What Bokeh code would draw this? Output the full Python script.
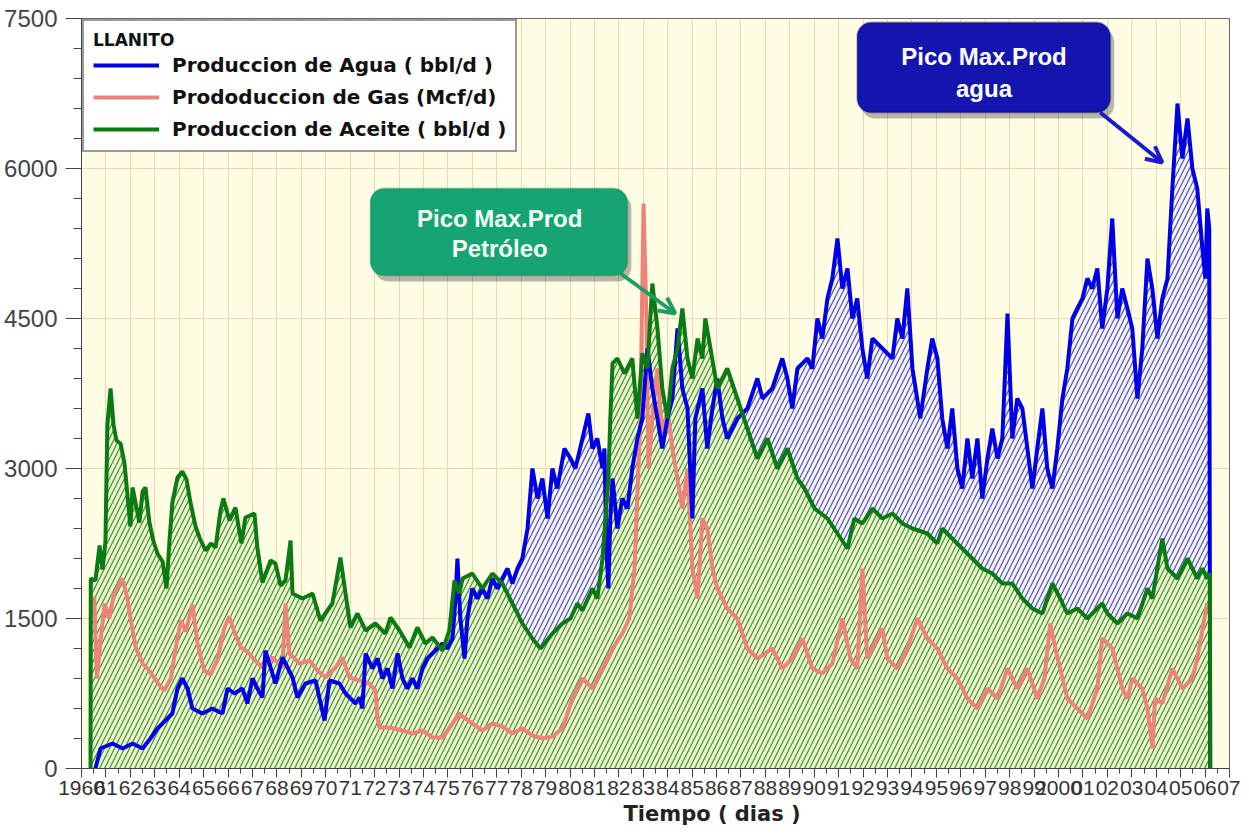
from bokeh.plotting import figure
from bokeh.models import (Range1d, FixedTicker, Legend, LegendItem, BoxAnnotation,
                          Label, Arrow, OpenHead, Title)
from bokeh.embed import file_html
from bokeh.resources import INLINE

# ---------------- data ----------------
TICK_YEARS = [1960, 1961, 1962, 1963, 1964, 1965, 1966, 1967, 1968, 1969,
              1970, 1971, 1972, 1973, 1974, 1975, 1976, 1977, 1978, 1979,
              1980, 1981, 1982, 1983, 1984, 1985, 1986, 1987, 1988, 1989,
              1990, 1991, 1992, 1993, 1994, 1995, 1996, 1997, 1998, 1999,
              2000, 2001, 2002, 2003, 2004, 2005, 2006, 2007]
TICK_LABELS = ["1960", "61", "62", "63", "64", "65", "66", "67", "68", "69",
               "70", "71", "72", "73", "74", "75", "76", "77", "78", "79",
               "80", "81", "82", "83", "84", "85", "86", "87", "88", "89",
               "90", "91", "92", "93", "94", "95", "96", "97", "98", "99",
               "2000", "01", "02", "03", "04", "05", "06", "07"]
Y_TICKS = [0, 1500, 3000, 4500, 6000, 7500]

WATER_YEAR = [1960.57, 1960.78, 1961.27, 1961.68, 1962.09, 1962.50, 1962.82, 1963.11, 1963.52, 1963.72,
              1963.93, 1964.13, 1964.34, 1964.54, 1964.95, 1965.36, 1965.77, 1965.98, 1966.26, 1966.59,
              1966.79, 1967.00, 1967.20, 1967.41, 1967.53, 1967.94, 1968.23, 1968.64, 1968.84, 1969.17,
              1969.58, 1969.95, 1970.15, 1970.56, 1970.81, 1971.22, 1971.38, 1971.50, 1971.63, 1971.91,
              1972.12, 1972.32, 1972.53, 1972.73, 1972.94, 1973.14, 1973.34, 1973.55, 1973.75, 1973.96,
              1974.16, 1974.57, 1974.78, 1974.98, 1975.19, 1975.31, 1975.39, 1975.51, 1975.68, 1975.80,
              1976.00, 1976.21, 1976.41, 1976.62, 1976.82, 1977.03, 1977.23, 1977.44, 1977.64, 1977.85,
              1978.05, 1978.26, 1978.46, 1978.67, 1978.87, 1979.08, 1979.28, 1979.48, 1979.77, 1980.02,
              1980.22, 1980.51, 1980.75, 1980.92, 1981.12, 1981.33, 1981.41, 1981.49, 1981.57, 1981.65,
              1981.74, 1981.94, 1982.14, 1982.35, 1982.55, 1982.76, 1982.96, 1983.17, 1983.37, 1983.58,
              1983.78, 1983.99, 1984.19, 1984.40, 1984.60, 1984.81, 1985.01, 1985.13, 1985.42, 1985.62,
              1985.83, 1986.03, 1986.24, 1986.44, 1986.85, 1987.26, 1987.67, 1987.88, 1988.28, 1988.69,
              1988.90, 1989.10, 1989.31, 1989.72, 1989.92, 1990.13, 1990.33, 1990.54, 1990.74, 1990.95,
              1991.15, 1991.36, 1991.56, 1991.76, 1991.97, 1992.17, 1992.38, 1992.79, 1993.20, 1993.40,
              1993.61, 1993.81, 1994.02, 1994.34, 1994.63, 1994.83, 1995.04, 1995.24, 1995.45, 1995.65,
              1995.86, 1996.06, 1996.27, 1996.47, 1996.68, 1996.88, 1997.09, 1997.29, 1997.50, 1997.70,
              1997.91, 1998.11, 1998.31, 1998.52, 1998.93, 1999.13, 1999.34, 1999.54, 1999.75, 1999.95,
              2000.16, 2000.36, 2000.57, 2000.77, 2000.98, 2001.18, 2001.38, 2001.59, 2001.79, 2002.00,
              2002.20, 2002.41, 2002.61, 2002.82, 2003.02, 2003.23, 2003.43, 2003.64, 2003.84, 2004.05,
              2004.25, 2004.46, 2004.66, 2004.87, 2005.07, 2005.28, 2005.48, 2005.68, 2005.89, 2006.01,
              2006.09, 2006.17, 2006.21]
WATER_BBL = [0, 200, 250, 200, 250, 200, 300, 400, 500, 550,
             800, 900, 800, 600, 550, 600, 550, 800, 750, 800,
             650, 900, 800, 710, 1180, 850, 1110, 910, 710, 850,
             880, 480, 880, 850, 750, 650, 710, 600, 1150, 1000,
             1100, 900, 1000, 800, 1150, 900, 800, 900, 800, 1000,
             1100, 1200, 1250, 1200, 1300, 1700, 2100, 1500, 1100, 1500,
             1800, 1700, 1800, 1700, 1900, 1800, 1900, 2000, 1850, 2000,
             2100, 2400, 3000, 2700, 2900, 2500, 3000, 2800, 3200, 3100,
             3000, 3300, 3550, 3200, 3300, 3000, 3200, 2200, 1800, 2500,
             2900, 2400, 2700, 2600, 3000, 3300, 3500, 4200, 3800, 3500,
             3200, 3500, 3700, 4400, 3800, 3600, 2500, 3500, 3800, 3200,
             3600, 3900, 3500, 3300, 3500, 3600, 3900, 3700, 3800, 4100,
             3900, 3600, 4000, 4100, 4000, 4500, 4300, 4700, 4900, 5300,
             4800, 5000, 4500, 4700, 4200, 3900, 4300, 4200, 4100, 4500,
             4300, 4800, 4000, 3500, 4000, 4300, 4100, 3500, 3200, 3600,
             3000, 2800, 3300, 2900, 3300, 2700, 3100, 3400, 3100, 3300,
             4550, 3300, 3700, 3600, 2800, 3200, 3600, 3000, 2800, 3200,
             3700, 4000, 4500, 4600, 4700, 4900, 4800, 5000, 4400, 4800,
             5500, 4500, 4800, 4600, 4400, 3700, 4200, 5100, 4800, 4300,
             4700, 4900, 5800, 6650, 6100, 6500, 6000, 5800, 5200, 4900,
             5600, 5400, 0]

GAS_YEAR = [1960.52, 1960.63, 1960.79, 1960.95, 1961.13, 1961.34, 1961.68, 1961.88, 1962.02, 1962.22,
            1962.50, 1962.77, 1963.11, 1963.38, 1963.66, 1963.86, 1964.07, 1964.27, 1964.54, 1964.75,
            1965.02, 1965.29, 1965.57, 1965.84, 1966.05, 1966.25, 1966.52, 1966.79, 1967.07, 1967.41,
            1967.82, 1968.23, 1968.35, 1968.51, 1968.92, 1969.33, 1969.66, 1969.99, 1970.40, 1970.68,
            1970.97, 1971.38, 1971.79, 1972.03, 1972.12, 1972.20, 1972.61, 1973.14, 1973.55, 1973.96,
            1974.37, 1974.78, 1975.19, 1975.47, 1975.60, 1976.00, 1976.41, 1976.82, 1977.23, 1977.64,
            1978.05, 1978.46, 1978.87, 1979.28, 1979.69, 1980.10, 1980.51, 1980.92, 1981.33, 1981.74,
            1982.14, 1982.43, 1982.64, 1982.88, 1983.01, 1983.13, 1983.21, 1983.37, 1983.58, 1983.78,
            1983.99, 1984.19, 1984.60, 1984.81, 1985.01, 1985.22, 1985.42, 1985.62, 1985.83, 1986.03,
            1986.44, 1986.85, 1987.26, 1987.67, 1988.28, 1988.69, 1989.10, 1989.51, 1989.92, 1990.33,
            1990.74, 1991.15, 1991.48, 1991.76, 1991.97, 1992.17, 1992.58, 1992.79, 1992.99, 1993.40,
            1993.81, 1994.22, 1994.63, 1995.04, 1995.45, 1995.86, 1996.27, 1996.68, 1997.09, 1997.50,
            1997.91, 1998.31, 1998.72, 1999.13, 1999.42, 1999.66, 1999.87, 2000.36, 2000.77, 2001.18,
            2001.59, 2001.79, 2002.20, 2002.61, 2002.82, 2003.02, 2003.43, 2003.64, 2003.85, 2003.95,
            2004.25, 2004.66, 2005.07, 2005.48, 2005.68, 2005.97, 2006.09]
GAS_MCF = [1720, 900, 1300, 1650, 1500, 1750, 1900, 1700, 1480, 1210,
           1050, 980, 860, 780, 900, 1210, 1480, 1370, 1640, 1250,
           980, 940, 1090, 1400, 1520, 1370, 1210, 1170, 1090, 1010,
           1110, 1010, 1650, 1150, 1050, 1080, 980, 910, 1010, 1110,
           910, 880, 850, 780, 510, 410, 410, 380, 350, 380,
           310, 310, 450, 550, 520, 450, 380, 450, 420, 350,
           400, 330, 300, 320, 400, 700, 900, 800, 1000, 1200,
           1350, 1500, 2000, 3500, 5650, 4500, 3000, 3500, 4000, 3300,
           3600, 3200, 2600, 3000, 2000, 1700, 2500, 2400, 2000, 1800,
           1600, 1500, 1200, 1100, 1200, 1000, 1100, 1300, 1000, 950,
           1050, 1500, 1100, 1000, 2000, 1100, 1300, 1400, 1100, 1000,
           1200, 1500, 1300, 1200, 1000, 900, 700, 600, 800, 700,
           1000, 800, 1000, 700, 900, 1450, 1200, 700, 600, 500,
           800, 1300, 1200, 800, 700, 900, 800, 600, 200, 700,
           650, 1000, 800, 900, 1100, 1500, 1650]

OIL_YEAR = [1960.37, 1960.38, 1960.57, 1960.74, 1960.86, 1960.98, 1961.06, 1961.19, 1961.31, 1961.43,
            1961.60, 1961.76, 1961.88, 1962.00, 1962.09, 1962.21, 1962.37, 1962.50, 1962.62, 1962.78,
            1962.95, 1963.11, 1963.32, 1963.48, 1963.60, 1963.72, 1963.93, 1964.13, 1964.30, 1964.46,
            1964.67, 1964.83, 1965.08, 1965.30, 1965.49, 1965.69, 1965.81, 1966.06, 1966.30, 1966.55,
            1966.71, 1967.08, 1967.20, 1967.41, 1967.74, 1967.94, 1968.15, 1968.35, 1968.56, 1968.64,
            1969.05, 1969.46, 1969.78, 1970.27, 1970.60, 1970.81, 1971.01, 1971.30, 1971.63, 1972.03,
            1972.44, 1972.65, 1973.02, 1973.43, 1973.75, 1974.08, 1974.37, 1974.78, 1975.06, 1975.27,
            1975.47, 1975.60, 1976.00, 1976.41, 1976.82, 1977.23, 1977.64, 1977.85, 1978.05, 1978.46,
            1978.79, 1979.28, 1979.69, 1980.02, 1980.30, 1980.51, 1980.92, 1981.12, 1981.33, 1981.45,
            1981.57, 1981.65, 1981.74, 1981.94, 1982.23, 1982.55, 1982.76, 1982.96, 1983.17, 1983.37,
            1983.58, 1983.78, 1983.99, 1984.19, 1984.40, 1984.60, 1984.81, 1985.01, 1985.22, 1985.42,
            1985.54, 1985.75, 1986.03, 1986.44, 1986.85, 1987.26, 1987.67, 1988.08, 1988.49, 1988.90,
            1989.31, 1989.60, 1990.01, 1990.54, 1990.95, 1991.36, 1991.64, 1991.97, 1992.38, 1992.79,
            1993.20, 1993.61, 1994.02, 1994.63, 1995.04, 1995.24, 1995.65, 1996.06, 1996.47, 1996.88,
            1997.29, 1997.70, 1998.11, 1998.52, 1998.93, 1999.34, 1999.75, 2000.07, 2000.36, 2000.77,
            2001.18, 2001.79, 2002.00, 2002.41, 2002.82, 2003.23, 2003.64, 2003.84, 2004.25, 2004.46,
            2004.87, 2005.28, 2005.68, 2005.89, 2006.09, 2006.20, 2006.21]
OIL_BBL = [0, 1900, 1880, 2230, 1990, 2270, 3440, 3800, 3440, 3280,
           3250, 3050, 2740, 2420, 2810, 2660, 2460, 2770, 2810, 2460,
           2270, 2150, 2070, 1800, 2270, 2660, 2910, 2970, 2890, 2660,
           2420, 2310, 2180, 2250, 2210, 2580, 2700, 2480, 2610, 2250,
           2510, 2550, 2210, 1860, 2080, 2050, 1830, 1880, 2280, 1750,
           1700, 1750, 1480, 1650, 2110, 1750, 1410, 1550, 1380, 1450,
           1350, 1510, 1380, 1210, 1410, 1250, 1310, 1180, 1380, 1880,
           1750, 1900, 1950, 1800, 1950, 1850, 1650, 1550, 1450, 1300,
           1200, 1350, 1450, 1500, 1650, 1580, 1800, 1700, 2100, 2500,
           2900, 3500, 4050, 4100, 3950, 4100, 3500, 4150, 4000, 4850,
           4400, 3800, 3500, 4000, 4200, 4600, 4100, 3900, 4300, 4100,
           4500, 4200, 3800, 4000, 3700, 3400, 3100, 3300, 3000, 3200,
           2900, 2800, 2600, 2500, 2350, 2200, 2500, 2450, 2600, 2500,
           2550, 2450, 2400, 2350, 2250, 2400, 2300, 2200, 2100, 2000,
           1950, 1850, 1850, 1700, 1600, 1550, 1850, 1700, 1550, 1600,
           1500, 1650, 1550, 1450, 1550, 1500, 1800, 1700, 2300, 2000,
           1900, 2100, 1900, 2000, 1900, 1950, 0]

SERIES_NAMES = ["Produccion de Agua ( bbl/d )",
                "Prododuccion de Gas (Mcf/d)",
                "Produccion de Aceite ( bbl/d )"]
NOTE_OIL = ["Pico Max.Prod", "Petróleo"]
NOTE_WATER = ["Pico Max.Prod", "agua"]
X_TITLE = "Tiempo ( dias )"

# ---------------- figure ----------------
p = figure(width=1240, height=832, x_range=Range1d(1960, 2007), y_range=Range1d(0, 7500),
           output_backend="svg", toolbar_location=None,
           min_border_left=81, min_border_right=11, min_border_top=18, min_border_bottom=64,
           background_fill_color="#FFFDE3", border_fill_color="white",
           outline_line_color="#666666", outline_line_width=1)

p.varea(x=WATER_YEAR, y1=0, y2=WATER_BBL, fill_color="#F6F4EE",
        hatch_pattern="/", hatch_color="#4B4BD0", hatch_scale=10, hatch_weight=1.2)
p.varea(x=OIL_YEAR, y1=0, y2=OIL_BBL, fill_color="#ECF5C6",
        hatch_pattern="/", hatch_color="#3E8A44", hatch_scale=10, hatch_weight=1.2)

gas = p.line(GAS_YEAR, GAS_MCF, line_color="#EE837A", line_width=4)
water = p.line(WATER_YEAR, WATER_BBL, line_color="#0000E6", line_width=4)
oil = p.line(OIL_YEAR, OIL_BBL, line_color="#0B7A12", line_width=4)

# axes
p.xaxis.ticker = FixedTicker(ticks=TICK_YEARS, minor_ticks=[t + 0.5 for t in TICK_YEARS[:-1]])
p.xaxis.major_label_overrides = dict(zip(TICK_YEARS, TICK_LABELS))
p.xaxis.major_label_text_font = "Liberation Sans"
p.xaxis.major_label_text_font_size = "21px"
p.xaxis.major_label_text_color = "#333333"
p.xaxis.major_label_standoff = 3
p.xaxis.major_tick_out = 9
p.xaxis.major_tick_in = 0
p.xaxis.minor_tick_out = 5
p.xaxis.minor_tick_in = 0

p.yaxis.ticker = FixedTicker(ticks=Y_TICKS, minor_ticks=list(range(0, 7501, 300)))
p.yaxis.major_label_text_font = "Liberation Sans"
p.yaxis.major_label_text_font_size = "24px"
p.yaxis.major_label_text_color = "#444444"
p.yaxis.major_label_standoff = 8
p.yaxis.major_tick_out = 16
p.yaxis.major_tick_in = 0
p.yaxis.minor_tick_out = 8
p.yaxis.minor_tick_in = 0

for ax in (p.xaxis, p.yaxis):
    ax.axis_line_color = "#444444"
    ax.major_tick_line_color = "#444444"
    ax.minor_tick_line_color = "#444444"

p.xgrid.ticker = FixedTicker(ticks=TICK_YEARS)
p.ygrid.ticker = FixedTicker(ticks=Y_TICKS)
p.grid.grid_line_color = "#F0D6AE"
p.grid.grid_line_width = 1

# x-axis title (sits right of centre in the original)
p.add_layout(Title(text=X_TITLE, align="left", offset=542, standoff=4,
                   text_font="DejaVu Sans", text_font_style="bold",
                   text_font_size="21px", text_color="#222222"), "below")

# legend
legend = Legend(items=[LegendItem(label=SERIES_NAMES[0], renderers=[water]),
                       LegendItem(label=SERIES_NAMES[1], renderers=[gas]),
                       LegendItem(label=SERIES_NAMES[2], renderers=[oil])],
                location="top_left", title="LLANITO",
                title_text_font="DejaVu Sans", title_text_font_style="bold",
                title_text_font_size="17px", title_text_color="#111111", title_standoff=3,
                label_text_font="DejaVu Sans", label_text_font_style="bold",
                label_text_font_size="20px", label_text_color="#111111",
                glyph_width=66, glyph_height=22, label_height=22, label_standoff=13,
                spacing=8, padding=9, margin=1,
                border_line_color="#333333", border_line_width=2,
                background_fill_color="white", background_fill_alpha=1)
p.add_layout(legend)

# annotation boxes
def note(left, right, top, bottom, color, edge, lines, cx, ys, txt_color):
    p.add_layout(BoxAnnotation(left=left + 0.16, right=right + 0.16, top=top - 60, bottom=bottom - 60,
                               fill_color="#000000", fill_alpha=0.28, line_alpha=0,
                               border_radius=14))
    p.add_layout(BoxAnnotation(left=left, right=right, top=top, bottom=bottom,
                               fill_color=color, fill_alpha=1, line_color=edge, line_width=2,
                               border_radius=14))
    for t, y in zip(lines, ys):
        p.add_layout(Label(x=cx, y=y, text=t, text_align="center", text_baseline="middle",
                           text_color=txt_color, text_font="Liberation Sans",
                           text_font_style="bold", text_font_size="24px"))

note(1971.83, 1982.35, 5800, 4930, "#16A572", "#0C7A52", NOTE_OIL, 1977.12, [5500, 5200], "#F2FFF6")
note(1991.76, 2002.12, 7460, 6560, "#1414AE", "#000070", NOTE_WATER, 1996.95, [7120, 6800], "#FFFFFF")

p.add_layout(Arrow(end=OpenHead(size=16, line_color="#1E9E5E", line_width=4),
                   x_start=1982.02, y_start=4960, x_end=1984.31, y_end=4550,
                   line_color="#1E9E5E", line_width=4))
p.add_layout(Arrow(end=OpenHead(size=16, line_color="#1A1ACC", line_width=4),
                   x_start=2001.71, y_start=6560, x_end=2004.25, y_end=6060,
                   line_color="#1A1ACC", line_width=4))

open("out.html", "w").write(file_html(p, INLINE))
